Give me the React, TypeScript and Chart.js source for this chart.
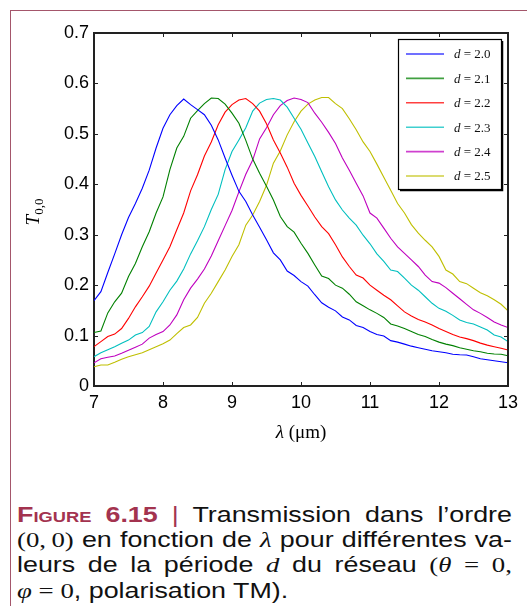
import React, { useEffect, useRef } from "react";
import { Chart, registerables } from "chart.js";

Chart.register(...registerables);

// Wavelength samples (µm)
const lambdas = [
  7.0, 7.1, 7.2, 7.3, 7.4, 7.5, 7.6, 7.7, 7.8, 7.9,
  8.0, 8.1, 8.2, 8.3, 8.4, 8.5, 8.6, 8.7, 8.8, 8.9,
  9.0, 9.1, 9.2, 9.3, 9.4, 9.5, 9.6, 9.7, 9.8, 9.9,
  10.0, 10.1, 10.2, 10.3, 10.4, 10.5, 10.6, 10.7, 10.8, 10.9,
  11.0, 11.1, 11.2, 11.3, 11.4, 11.5, 11.6, 11.7, 11.8, 11.9,
  12.0, 12.1, 12.2, 12.3, 12.4, 12.5, 12.6, 12.7, 12.8, 12.9,
  13.0,
];

const t_d20 = [
  0.169, 0.187, 0.225, 0.262, 0.3, 0.334, 0.362, 0.392, 0.428, 0.472,
  0.511, 0.538, 0.556, 0.569, 0.558, 0.548, 0.538, 0.517, 0.488, 0.452,
  0.418, 0.386, 0.366, 0.339, 0.315, 0.29, 0.264, 0.25, 0.228, 0.219,
  0.207, 0.198, 0.181, 0.165, 0.156, 0.149, 0.137, 0.131, 0.12, 0.116,
  0.108, 0.102, 0.099, 0.09, 0.087, 0.083, 0.079, 0.076, 0.073, 0.07,
  0.068, 0.066, 0.063, 0.062, 0.0615, 0.058, 0.054, 0.052, 0.05, 0.048,
  0.046,
];
const t_d21 = [
  0.106, 0.109, 0.145, 0.167, 0.184, 0.217, 0.243, 0.276, 0.306, 0.343,
  0.375, 0.429, 0.472, 0.495, 0.531, 0.546, 0.56, 0.571, 0.57, 0.559,
  0.541, 0.521, 0.487, 0.45, 0.422, 0.396, 0.369, 0.336, 0.316, 0.305,
  0.283, 0.263, 0.24, 0.218, 0.213, 0.2, 0.194, 0.182, 0.167, 0.159,
  0.151, 0.144, 0.136, 0.123, 0.119, 0.114, 0.108, 0.102, 0.098, 0.092,
  0.087, 0.083, 0.08, 0.076, 0.073, 0.07, 0.068, 0.065, 0.0635, 0.063,
  0.06,
];
const t_d22 = [
  0.078, 0.088, 0.098, 0.103, 0.114, 0.134, 0.157, 0.177, 0.198, 0.224,
  0.25, 0.276, 0.31, 0.343, 0.387, 0.419, 0.456, 0.484, 0.518, 0.543,
  0.558, 0.567, 0.57, 0.56, 0.545, 0.52, 0.488, 0.462, 0.434, 0.402,
  0.378, 0.357, 0.335, 0.316, 0.302, 0.28, 0.256, 0.237, 0.22, 0.214,
  0.2, 0.19, 0.18, 0.171, 0.159, 0.147, 0.139, 0.132, 0.127, 0.121,
  0.114, 0.108, 0.102, 0.097, 0.094, 0.09, 0.085, 0.081, 0.078, 0.075,
  0.0714,
];
const t_d23 = [
  0.058, 0.066, 0.072, 0.078, 0.085, 0.091, 0.101, 0.106, 0.118, 0.147,
  0.167, 0.19, 0.208, 0.232, 0.262, 0.288, 0.316, 0.35, 0.38, 0.429,
  0.465, 0.488, 0.512, 0.545, 0.561, 0.568, 0.57, 0.567, 0.553, 0.531,
  0.509, 0.482, 0.455, 0.425, 0.395, 0.369, 0.349, 0.333, 0.319, 0.299,
  0.282, 0.262, 0.247, 0.23, 0.227, 0.214, 0.2, 0.19, 0.177, 0.164,
  0.154, 0.148, 0.14, 0.131, 0.126, 0.123, 0.117, 0.111, 0.101, 0.097,
  0.088,
];
const t_d24 = [
  0.046, 0.054, 0.057, 0.0595, 0.065, 0.071, 0.077, 0.083, 0.095, 0.102,
  0.108, 0.121, 0.141, 0.171, 0.194, 0.212, 0.232, 0.258, 0.288, 0.318,
  0.348, 0.385, 0.42, 0.448, 0.49, 0.512, 0.538, 0.556, 0.566, 0.571,
  0.568, 0.562, 0.541, 0.523, 0.503, 0.481, 0.452, 0.428, 0.402, 0.377,
  0.343, 0.333, 0.313, 0.293, 0.276, 0.263, 0.25, 0.237, 0.22, 0.207,
  0.204, 0.195, 0.184, 0.173, 0.162, 0.151, 0.144, 0.136, 0.127, 0.121,
  0.116,
];
const t_d25 = [
  0.038, 0.0417, 0.0417, 0.047, 0.053, 0.058, 0.062, 0.066, 0.072, 0.078,
  0.084, 0.091, 0.104, 0.116, 0.121, 0.136, 0.164, 0.184, 0.207, 0.23,
  0.257, 0.28, 0.319, 0.339, 0.366, 0.398, 0.442, 0.466, 0.498, 0.524,
  0.545, 0.559, 0.567, 0.572, 0.572, 0.56, 0.55, 0.53, 0.508, 0.484,
  0.465, 0.44, 0.414, 0.388, 0.362, 0.343, 0.32, 0.303, 0.289, 0.276,
  0.257, 0.23, 0.222, 0.207, 0.203, 0.194, 0.185, 0.179, 0.171, 0.162,
  0.149,
];

const seriesLabels = ["2.0", "2.1", "2.2", "2.3", "2.4", "2.5"];
const seriesValues = [t_d20, t_d21, t_d22, t_d23, t_d24, t_d25];
const seriesColors = ["#0000ff", "#008000", "#ff0000", "#00bfbf", "#bf00bf", "#bfbf00"];

const xTicks = [7, 8, 9, 10, 11, 12, 13];
const yTicks = [0, 0.1, 0.2, 0.3, 0.4, 0.5, 0.6, 0.7];

const MAROON = "#a3334f";
const BORDER = "#a4566b";

const framePlugin = {
  id: "frameAndDecor",
  afterDraw(chart: any) {
    const { ctx, chartArea } = chart;
    const { left, right, top, bottom } = chartArea;
    const xs = chart.scales.x;
    const ys = chart.scales.y;
    ctx.save();
    // top & right frame lines
    ctx.strokeStyle = "#222";
    ctx.lineWidth = 2;
    ctx.beginPath();
    ctx.moveTo(left - 1, top);
    ctx.lineTo(right, top);
    ctx.lineTo(right, bottom + 1);
    ctx.stroke();
    // inward ticks
    ctx.lineWidth = 1;
    const tl = 4;
    ctx.beginPath();
    xTicks.forEach((v) => {
      const px = Math.round(xs.getPixelForValue(v)) + 0.5;
      ctx.moveTo(px, bottom);
      ctx.lineTo(px, bottom - tl);
      ctx.moveTo(px, top);
      ctx.lineTo(px, top + tl);
    });
    yTicks.forEach((v) => {
      const py = Math.round(ys.getPixelForValue(v)) + 0.5;
      ctx.moveTo(left, py);
      ctx.lineTo(left + tl, py);
      ctx.moveTo(right, py);
      ctx.lineTo(right - tl, py);
    });
    ctx.stroke();

    // Legend box
    const bx = 398, by = 39, bw = 103, bh = 150;
    ctx.fillStyle = "#fff";
    ctx.fillRect(bx, by, bw, bh);
    ctx.strokeStyle = "#000";
    ctx.lineWidth = 1.2;
    ctx.strokeRect(bx + 0.5, by + 0.5, bw, bh);
    ctx.lineWidth = 1.5;
    ctx.beginPath();
    ctx.moveTo(bx + bw + 1.5, by + 2);
    ctx.lineTo(bx + bw + 1.5, by + bh + 1.5);
    ctx.lineTo(bx + 2, by + bh + 1.5);
    ctx.stroke();
    chart.data.datasets.forEach((ds: any, i: number) => {
      const ry = 54 + i * 24.4;
      ctx.strokeStyle = ds.borderColor;
      ctx.globalAlpha = 0.75;
      ctx.lineWidth = 1.6;
      ctx.beginPath();
      ctx.moveTo(406, ry);
      ctx.lineTo(444, ry);
      ctx.stroke();
      ctx.globalAlpha = 1;
      ctx.fillStyle = "#111";
      ctx.textBaseline = "middle";
      ctx.textAlign = "left";
      ctx.font = 'italic 13px "Liberation Serif"';
      ctx.fillText("d", 454, ry + 1);
      const wd = ctx.measureText("d").width;
      ctx.font = '13px "Liberation Serif"';
      ctx.fillText(" = " + seriesLabels[i], 454 + wd, ry + 1);
    });

    // Y axis title T_{0,0}
    ctx.save();
    ctx.translate(39, 212);
    ctx.rotate(-Math.PI / 2);
    ctx.fillStyle = "#000";
    ctx.textBaseline = "alphabetic";
    ctx.textAlign = "left";
    ctx.font = 'italic 19px "Liberation Serif"';
    const wT = ctx.measureText("T").width;
    ctx.font = '13px "Liberation Serif"';
    const wS = ctx.measureText("0,0").width;
    const start = -(wT + wS) / 2;
    ctx.font = 'italic 19px "Liberation Serif"';
    ctx.fillText("T", start, 0);
    ctx.font = '13px "Liberation Serif"';
    ctx.fillText("0,0", start + wT, 4);
    ctx.restore();

    // X axis title λ (µm)
    ctx.fillStyle = "#000";
    ctx.textBaseline = "alphabetic";
    ctx.textAlign = "left";
    ctx.font = 'italic 19px "Liberation Serif"';
    const wl = ctx.measureText("λ").width;
    ctx.font = '19px "Liberation Serif"';
    const wr = ctx.measureText(" (μm)").width;
    const cx = (left + right) / 2;
    const sx = cx - (wl + wr) / 2;
    ctx.font = 'italic 19px "Liberation Serif"';
    ctx.fillText("λ", sx, 438);
    ctx.font = '19px "Liberation Serif"';
    ctx.fillText(" (μm)", sx + wl, 438);
    ctx.restore();
  },
};

function ChartCanvas() {
  const ref = useRef<HTMLCanvasElement | null>(null);
  useEffect(() => {
    if (!ref.current) return;
    const datasets = seriesValues.map((vals, i) => ({
      label: "d = " + seriesLabels[i],
      data: lambdas.map((x, j) => ({ x, y: vals[j] })),
      borderColor: seriesColors[i],
      backgroundColor: seriesColors[i],
      borderWidth: 1.1,
      pointRadius: 0,
      tension: 0,
      fill: false,
    }));
    const chart = new Chart(ref.current, {
      type: "line",
      data: { datasets },
      options: {
        animation: false,
        responsive: false,
        maintainAspectRatio: false,
        layout: { padding: { left: 0, top: 33, right: 19, bottom: 4 } },
        plugins: {
          legend: { display: false },
          tooltip: { enabled: false },
          title: { display: false },
        },
        scales: {
          x: {
            type: "linear",
            min: 7,
            max: 13,
            afterFit: (s: any) => {
              s.height = 60;
            },
            ticks: {
              stepSize: 1,
              color: "#000",
              padding: 6,
              font: { family: '"Liberation Sans", Arial, sans-serif', size: 18 },
              maxRotation: 0,
            },
            grid: { display: true, drawOnChartArea: false, drawTicks: false },
            border: { display: true, color: "#222", width: 2 },
          },
          y: {
            type: "linear",
            min: 0,
            max: 0.7,
            afterFit: (s: any) => {
              s.width = 94;
            },
            ticks: {
              stepSize: 0.1,
              color: "#000",
              padding: 5,
              font: { family: '"Liberation Sans", Arial, sans-serif', size: 18 },
              callback: (v: any) => (Math.abs(v) < 1e-9 ? "0" : Number(v).toFixed(1)),
            },
            grid: { display: true, drawOnChartArea: false, drawTicks: false },
            border: { display: true, color: "#222", width: 2 },
          },
        },
      },
      plugins: [framePlugin],
    });
    return () => chart.destroy();
  }, []);
  return (
    <canvas
      ref={ref}
      width={527}
      height={450}
      style={{ position: "absolute", left: 0, top: 0, width: 527, height: 450 }}
    />
  );
}

const STRETCH = 1.22;
const CAPTION_W = 495;

const lineStyle: React.CSSProperties = {
  textAlign: "justify",
  textAlignLast: "justify",
  whiteSpace: "normal",
  height: 25.2,
  lineHeight: "25.2px",
};

const mathFont = '"Liberation Serif", serif';

export default function App() {
  return (
    <div
      style={{
        position: "absolute",
        left: 0,
        top: 0,
        width: 527,
        height: 606,
        background: "#fff",
        overflow: "hidden",
      }}
    >
      <div
        style={{
          position: "absolute",
          left: 10,
          top: 10,
          width: 600,
          height: 700,
          borderLeft: `1px solid ${BORDER}`,
          borderTop: `1px solid ${BORDER}`,
        }}
      />
      <ChartCanvas />
      <div
        style={{
          position: "absolute",
          left: 17,
          top: 502,
          width: CAPTION_W / STRETCH,
          transform: `scaleX(${STRETCH})`,
          transformOrigin: "0 0",
          fontFamily: '"Liberation Sans", Arial, sans-serif',
          fontSize: 22,
          color: "#111",
        }}
      >
        <div style={lineStyle}>
          <span style={{ color: MAROON, fontWeight: "bold", fontVariant: "small-caps" }}>Figure</span>{" "}
          <span style={{ color: MAROON, fontWeight: "bold" }}>6.15</span>{" "}
          <span style={{ color: MAROON }}>|</span> Transmission dans l’ordre
        </div>
        <div style={lineStyle}>
          <span style={{ fontFamily: mathFont }}>(0,&#8201;0)</span> en fonction de{" "}
          <span style={{ fontFamily: mathFont, fontStyle: "italic" }}>λ</span> pour différentes va-
        </div>
        <div style={lineStyle}>
          leurs de la période <span style={{ fontFamily: mathFont, fontStyle: "italic" }}>d</span> du réseau{" "}
          <span style={{ fontFamily: mathFont }}>
            (<i>θ</i>
          </span>{" "}
          <span style={{ fontFamily: mathFont }}>=</span> <span style={{ fontFamily: mathFont }}>0,</span>
        </div>
        <div style={{ ...lineStyle, textAlignLast: "left" }}>
          <span style={{ fontFamily: mathFont }}>
            <i>φ</i> = 0
          </span>
          , polarisation TM).
        </div>
      </div>
    </div>
  );
}
